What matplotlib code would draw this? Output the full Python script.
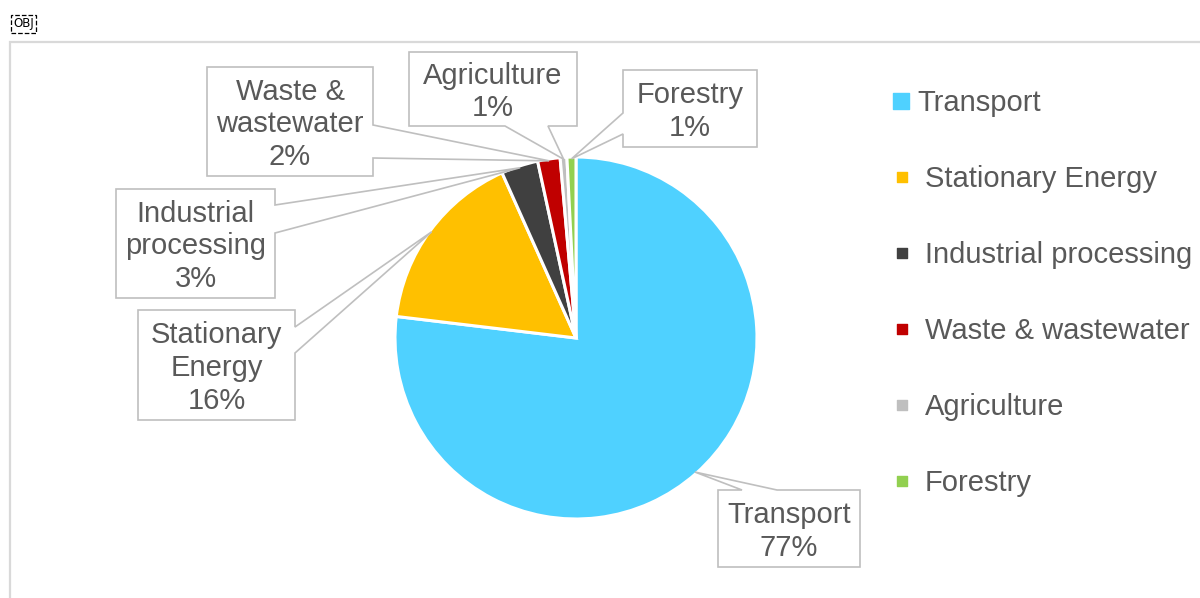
import numpy as np
import matplotlib.pyplot as plt
from matplotlib.patches import Polygon, Rectangle

plt.rcParams['font.family'] = ['Liberation Sans', 'DejaVu Sans']

# data
categories = ['Transport', 'Stationary Energy', 'Industrial processing',
              'Waste & wastewater', 'Agriculture', 'Forestry']
values = [76.9, 16.4, 3.3, 2.0, 0.6, 0.8]
colors = ['#4FD1FF', '#FFC000', '#404040', '#C00000', '#BFBFBF', '#92D050']
label_names = ['Transport', 'Stationary\nEnergy', 'Industrial\nprocessing',
               'Waste &\nwastewater', 'Agriculture', 'Forestry']

W, H = 1200, 598
TXT = '#595959'
EDGE = '#BFBFBF'


def fy(y):
    # image pixel y (down) -> data y (up)
    return H - y


fig = plt.figure(figsize=(12, 5.98), dpi=100)
ax = fig.add_axes([0, 0, 1, 1])

cx, cy, r = 576, fy(338), 181
ax.pie(values, colors=colors, startangle=90, counterclock=False,
       center=(cx, cy), radius=r, frame=True,
       wedgeprops=dict(edgecolor='white', linewidth=2.2))

ax.set_xlim(0, W)
ax.set_ylim(0, H)
ax.set_aspect('equal')
ax.axis('off')

# outer chart frame
ax.add_patch(Rectangle((10, fy(600)), 1200, 600 - 42, fill=False,
                       ec='#D9D9D9', lw=1.6, clip_on=False))

# OBJ marker
ax.text(13, fy(24), 'OBJ', fontsize=8.5, color='black', va='center', ha='left',
        family='DejaVu Sans',
        bbox=dict(boxstyle='square,pad=0.2', fc='none', ec='black', ls='--', lw=0.9))

# callout boxes: (x0, y0, x1, y1), side, base a, base b  (image pixels)
callouts = [
    ((718, 490, 860, 567), 'top', 742, 777),
    ((138, 310, 295, 420), 'right', 327, 353),
    ((116, 189, 275, 298), 'right', 205, 233),
    ((207, 67, 373, 176), 'right', 125, 158),
    ((409, 52, 577, 126), 'bottom', 505, 548),
    ((623, 70, 757, 147), 'left', 113, 134),
]

total = sum(values)
cum = np.cumsum([0] + values[:-1])
for i, (box, side, a, b) in enumerate(callouts):
    frac = (cum[i] + values[i] / 2) / total
    th = np.deg2rad(90 - 360 * frac)
    tip = (cx + 0.99 * r * np.cos(th), cy + 0.99 * r * np.sin(th))
    x0, y0, x1, y1 = box
    pts = [(x0, y0)]
    if side == 'top':
        pts += [(a, y0), None, (b, y0)]
    pts += [(x1, y0)]
    if side == 'right':
        pts += [(x1, a), None, (x1, b)]
    pts += [(x1, y1)]
    if side == 'bottom':
        pts += [(b, y1), None, (a, y1)]
    pts += [(x0, y1)]
    if side == 'left':
        pts += [(x0, b), None, (x0, a)]
    verts = [tip if p is None else (p[0], fy(p[1])) for p in pts]
    ax.add_patch(Polygon(verts, closed=True, fc='white', ec=EDGE, lw=1.2, zorder=3))
    pct = int(round(values[i]))
    ax.text((x0 + x1) / 2, fy((y0 + y1) / 2 + 3), f'{label_names[i]}\n{pct}%',
            ha='center', va='center', fontsize=21, color=TXT,
            linespacing=1.22, zorder=4)

# legend
for i, (name, col) in enumerate(zip(categories, colors)):
    ly = fy(101 + 76 * i)
    if i == 0:
        ax.scatter([901], [ly], s=11.5 ** 2, marker='s', color=col, zorder=5)
        tx = 917
    else:
        ax.scatter([902], [ly], s=7.2 ** 2, marker='s', color=col, zorder=5)
        tx = 925
    ax.text(tx, ly - 2, name, ha='left', va='center', fontsize=21, color=TXT)

fig.savefig('out.png', dpi=100)
